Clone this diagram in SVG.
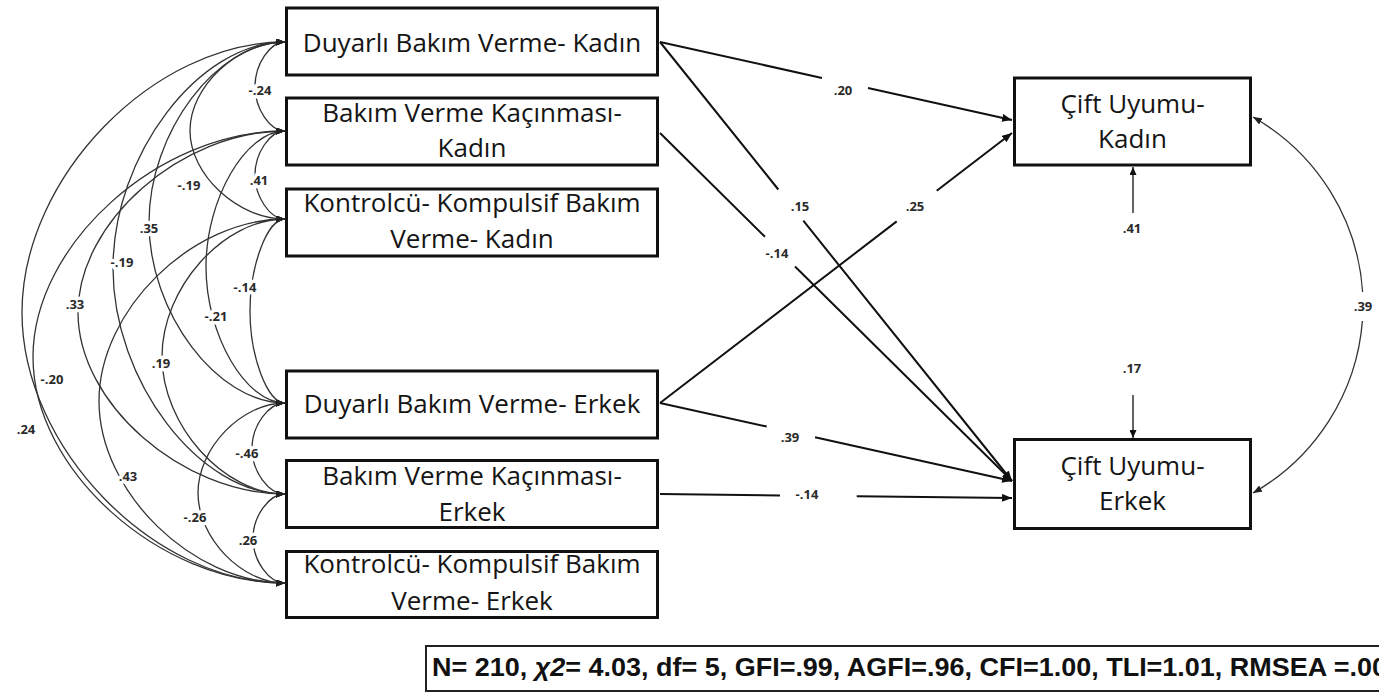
<svg xmlns="http://www.w3.org/2000/svg" width="1379" height="693" viewBox="0 0 1379 693">
<style>
.box{fill:#fff;stroke:#111;stroke-width:3}
.bt{font-family:"Open Sans","DejaVu Sans",sans-serif;font-size:26px;fill:#151515;text-anchor:middle}
.cov{fill:none;stroke:#333;stroke-width:1.3;marker-start:url(#hc);marker-end:url(#hc)}
.path{fill:none;stroke:#111;stroke-width:2;marker-end:url(#ha)}
.res{fill:none;stroke:#222;stroke-width:1.4;marker-end:url(#hr)}
.lb{font-family:"Open Sans","DejaVu Sans",sans-serif;font-size:13px;font-weight:700;fill:#2a2a2a;text-anchor:middle}
.halo{stroke:#fff;stroke-width:7;stroke-linejoin:round;paint-order:stroke}
.fit{font-family:"Liberation Sans",Arial,sans-serif;font-size:26px;font-weight:700;fill:#111}
</style>
<defs>
<marker id="hc" markerUnits="userSpaceOnUse" markerWidth="9" markerHeight="7" refX="9" refY="3.5" orient="auto-start-reverse"><path d="M0,0 L9,3.5 L0,7 z" fill="#222"/></marker>
<marker id="ha" markerUnits="userSpaceOnUse" markerWidth="10" markerHeight="8" refX="10" refY="4" orient="auto"><path d="M0,0 L10,4 L0,8 z" fill="#111"/></marker>
<marker id="hr" markerUnits="userSpaceOnUse" markerWidth="8" markerHeight="7" refX="8" refY="3.5" orient="auto-start-reverse"><path d="M0,0 L8,3.5 L0,7 z" fill="#111"/></marker>
</defs>
<rect width="1379" height="693" fill="#fff"/>

<g id="connectors">
<g id="covariances">
<path class="cov" d="M285,42 C270,42 255,64.25 255,86.5 C255,108.75 270,131 285,131"/>
<path class="cov" d="M285,131 C270,131 255,153 255,175 C255,197 270,219 285,219"/>
<path class="cov" d="M285,42 C237.5,42 190,86.25 190,130.5 C190,174.75 237.5,219 285,219"/>
<path class="cov" d="M285,219 C267.5,219 250,265 250,311 C250,357 267.5,403 285,403"/>
<path class="cov" d="M285,403 C268.5,403 252,425.75 252,448.5 C252,471.25 268.5,494 285,494"/>
<path class="cov" d="M285,494 C269,494 253,516.25 253,538.5 C253,560.75 269,583 285,583"/>
<path class="cov" d="M285,131 C245.5,131 206,199 206,267 C206,335 245.5,403 285,403"/>
<path class="cov" d="M285,42 C217,42 149,132.25 149,222.5 C149,312.75 217,403 285,403"/>
<path class="cov" d="M285,42 C199,42 113,155 113,268 C113,381 199,494 285,494"/>
<path class="cov" d="M285,131 C181.5,131 78,221.75 78,312.5 C78,403.25 181.5,494 285,494"/>
<path class="cov" d="M285,131 C159,131 33,244 33,357 C33,470 159,583 285,583"/>
<path class="cov" d="M285,219 C223.5,219 162,287.75 162,356.5 C162,425.25 223.5,494 285,494"/>
<path class="cov" d="M285,219 C192,219 99,310 99,401 C99,492 192,583 285,583"/>
<path class="cov" d="M285,403 C241.5,403 198,448 198,493 C198,538 241.5,583 285,583"/>
<path class="cov" d="M285,42 C153.5,42 22,177.25 22,312.5 C22,447.75 153.5,583 285,583"/>
<path class="cov" d="M1253,117 A217.6,217.6 0 0 1 1362.6,292 M1362.4,321 A217.6,217.6 0 0 1 1253,493"/>
</g>
<g id="cov-labels">
<text class="lb halo" x="260" y="94.5">-.24</text>
<text class="lb halo" x="259" y="184.5">.41</text>
<text class="lb halo" x="189" y="189.5">-.19</text>
<text class="lb halo" x="149" y="232.5">.35</text>
<text class="lb halo" x="122" y="266.5">-.19</text>
<text class="lb halo" x="75" y="308.5">.33</text>
<text class="lb halo" x="245" y="291.5">-.14</text>
<text class="lb halo" x="216" y="320.5">-.21</text>
<text class="lb halo" x="161" y="367.5">.19</text>
<text class="lb halo" x="52" y="383.5">-.20</text>
<text class="lb halo" x="26" y="433.5">.24</text>
<text class="lb halo" x="128" y="480.5">.43</text>
<text class="lb halo" x="247" y="457.5">-.46</text>
<text class="lb halo" x="195" y="521.5">-.26</text>
<text class="lb halo" x="248" y="544.5">.26</text>
<text class="lb" x="1363" y="310.5">.39</text>
</g>
<g id="regressions">
<path class="path" d="M660,42 L822,77.9 M868,88.1 L1012,120"/>
<path class="path" d="M660,42 L778.3,189.5 M803.3,220.7 L1012,481"/>
<path class="path" d="M660,133 L765,236.8 M795,266.5 L1012,481"/>
<path class="path" d="M660,403 L896.7,221.4 M936.7,190.8 L1012,133"/>
<path class="path" d="M660,403 L766.7,426.6 M815,437.3 L1012,481"/>
<path class="path" d="M660,494 L780,495.4 M856.7,496.2 L1012,498"/>
<text class="lb" x="843" y="95">.20</text>
<text class="lb" x="800" y="211">.15</text>
<text class="lb" x="777" y="257.5">-.14</text>
<text class="lb" x="915" y="211">.25</text>
<text class="lb" x="790" y="441.5">.39</text>
<text class="lb" x="807" y="498.5">-.14</text>
</g>
<g id="residuals">
<path class="res" d="M1133,213 L1133,167"/>
<path class="res" d="M1133,395 L1133,438"/>
<text class="lb" x="1132" y="232.5">.41</text>
<text class="lb" x="1132" y="372.5">.17</text>
</g>
</g>

<g id="node-duyarli-kadin"><rect class="box" x="286.5" y="8" width="371" height="67"/><text class="bt" x="472" y="52">Duyarlı Bakım Verme- Kadın</text></g>
<g id="node-kacinma-kadin"><rect class="box" x="286.5" y="98" width="371" height="67"/><text class="bt" x="472" y="122">Bakım Verme Kaçınması-</text><text class="bt" x="472" y="157">Kadın</text></g>
<g id="node-kontrolcu-kadin"><rect class="box" x="286.5" y="189" width="371" height="67"/><text class="bt" x="472" y="212">Kontrolcü- Kompulsif Bakım</text><text class="bt" x="472" y="248">Verme- Kadın</text></g>
<g id="node-duyarli-erkek"><rect class="box" x="286.5" y="371" width="371" height="67"/><text class="bt" x="472" y="413">Duyarlı Bakım Verme- Erkek</text></g>
<g id="node-kacinma-erkek"><rect class="box" x="286.5" y="460.5" width="371" height="67"/><text class="bt" x="472" y="485">Bakım Verme Kaçınması-</text><text class="bt" x="472" y="521">Erkek</text></g>
<g id="node-kontrolcu-erkek"><rect class="box" x="286.5" y="551.5" width="371" height="66"/><text class="bt" x="472" y="573">Kontrolcü- Kompulsif Bakım</text><text class="bt" x="472" y="610">Verme- Erkek</text></g>
<g id="node-uyum-kadin"><rect class="box" x="1014.5" y="78" width="236" height="87"/><text class="bt" x="1132.5" y="113">Çift Uyumu-</text><text class="bt" x="1132.5" y="148">Kadın</text></g>
<g id="node-uyum-erkek"><rect class="box" x="1014.5" y="439.5" width="236" height="89"/><text class="bt" x="1132.5" y="475">Çift Uyumu-</text><text class="bt" x="1132.5" y="510">Erkek</text></g>

<g id="fit-indices"><rect x="426" y="646" width="1000" height="45" fill="#fff" stroke="#222" stroke-width="2"/><text class="fit" x="432" y="676" textLength="955" lengthAdjust="spacingAndGlyphs">N= 210, <tspan font-style="italic">χ2</tspan>= 4.03, df= 5, GFI=.99, AGFI=.96, CFI=1.00, TLI=1.01, RMSEA =.00</text></g>
</svg>
